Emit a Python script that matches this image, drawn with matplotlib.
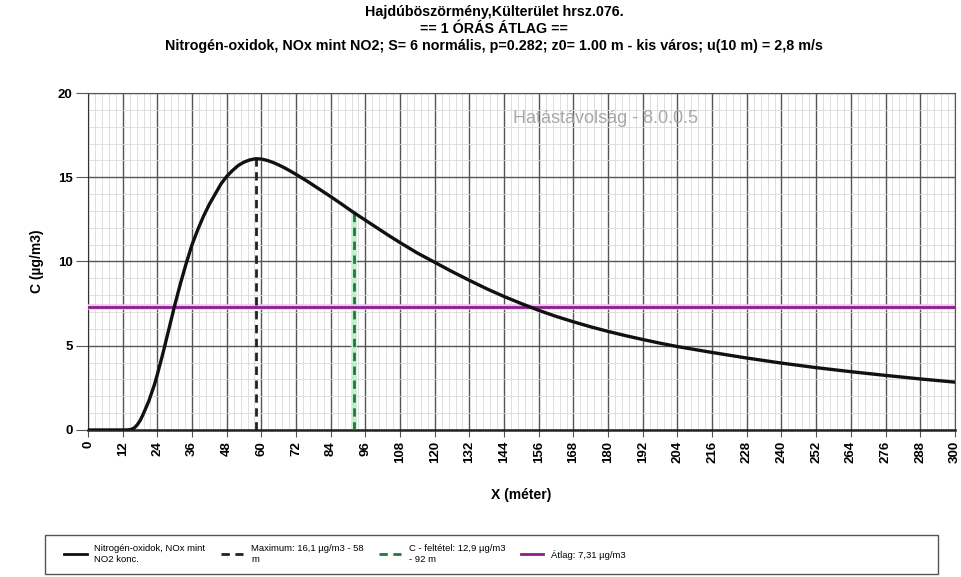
import matplotlib.pyplot as plt
from matplotlib.lines import Line2D
from matplotlib.patches import Rectangle
from matplotlib.ticker import MultipleLocator

plt.rcParams['font.family'] = ['Liberation Sans', 'DejaVu Sans']

# koncentracio gorbe (x m, C ug/m3), leolvasva
tav = [0, 12, 13, 14, 15, 16, 17, 18, 19, 20, 21, 22, 23, 24, 26, 28, 30, 32,
       34, 36, 38, 40, 42, 44, 46, 48, 50, 52, 54, 56, 58, 60, 62, 64, 66, 68,
       70, 72, 76, 80, 84, 88, 92, 96, 100, 104, 108, 114, 120, 126, 132, 138,
       144, 150, 156, 162, 168, 174, 180, 186, 192, 198, 204, 216, 228, 240,
       252, 264, 276, 288, 300]
konc = [0, 0, 0, 0.01, 0.04, 0.12, 0.3, 0.55, 0.9, 1.3, 1.7, 2.2, 2.7, 3.3,
        4.6, 6.0, 7.4, 8.7, 9.9, 11.0, 11.9, 12.7, 13.4, 14.0, 14.6, 15.05,
        15.4, 15.7, 15.9, 16.03, 16.1, 16.08, 16.0, 15.88, 15.73, 15.56, 15.37,
        15.17, 14.75, 14.3, 13.85, 13.38, 12.9, 12.45, 12.0, 11.55, 11.12,
        10.5, 9.95, 9.4, 8.88, 8.38, 7.92, 7.5, 7.1, 6.74, 6.42, 6.12, 5.85,
        5.6, 5.37, 5.15, 4.95, 4.6, 4.27, 3.97, 3.7, 3.46, 3.24, 3.03, 2.84]

max_x, max_c = 58, 16.1
felt_x, felt_c = 92, 12.9
atlag = 7.31

x_ticks = list(range(0, 301, 12))
y_ticks = [0, 5, 10, 15, 20]

fig = plt.figure(figsize=(9.61, 5.77), dpi=100)
ax = fig.add_axes([0.0916, 0.2548, 0.902, 0.584])

ax.set_xlim(0, 300)
ax.set_ylim(0, 20)
ax.set_xticks(x_ticks)
ax.set_yticks(y_ticks)
ax.xaxis.set_minor_locator(MultipleLocator(2.4))
ax.yaxis.set_minor_locator(MultipleLocator(1))
ax.grid(which='minor', color='#d9d9d9', lw=0.6)
ax.grid(which='major', color='#555555', lw=1.0)
ax.set_axisbelow(True)
ax.tick_params(which='minor', length=0)
ax.tick_params(axis='y', length=9, color='#555555', labelsize=9.5, pad=2)
ax.tick_params(axis='x', length=5, color='#555555', labelsize=9.5,
               labelrotation=90, pad=3)
for lab in ax.get_xticklabels() + ax.get_yticklabels():
    lab.set_fontweight('bold')
for s in ['top', 'right']:
    ax.spines[s].set_color('#555555')
ax.spines['left'].set_color('#333333')
ax.spines['bottom'].set_color('#222222')
ax.spines['bottom'].set_linewidth(1.8)

ax.plot([felt_x, felt_x], [0, felt_c], color='#c8ecd0', lw=4, zorder=2)
ax.plot([felt_x, felt_x], [0, felt_c], color='#1e7a3a', lw=2,
        dashes=(3, 2), zorder=3)
ax.axhline(atlag, color='#efc4ef', lw=4, zorder=3)
ax.axhline(atlag, color='#8a1f8a', lw=2, zorder=4)
ax.plot([max_x, max_x], [0, max_c], color='#222222', lw=2,
        dashes=(3, 2), zorder=4)
ax.plot(tav, konc, color='#111111', lw=2.4, zorder=5)

ax.text(179, 18.5, 'Hatástávolság - 8.0.0.5', color='#a8a8a8', fontsize=13,
        ha='center', va='center', zorder=6)

ax.set_xlabel('X (méter)', fontsize=10, fontweight='bold', labelpad=18)
ax.set_ylabel('C (µg/m3)', fontsize=10, fontweight='bold', labelpad=10)

fig.text(0.514, 0.992, 'Hajdúböszörmény,Külterület hrsz.076.\n'
         '== 1 ÓRÁS ÁTLAG ==\n'
         'Nitrogén-oxidok, NOx mint NO2; S= 6 normális, p=0.282; z0= 1.00 m - '
         'kis város; u(10 m) = 2,8 m/s',
         ha='center', va='top', fontsize=10.3, fontweight='bold',
         linespacing=1.3)

# jelmagyarazat
fig.patches.append(Rectangle((0.047, 0.005), 0.929, 0.068,
                             transform=fig.transFigure, fill=False,
                             ec='#555555', lw=1))
handles = [
    Line2D([], [], color='#111111', lw=2),
    Line2D([], [], color='#222222', lw=2, dashes=(3, 2)),
    Line2D([], [], color='#1e7a3a', lw=2, dashes=(3, 2)),
    Line2D([], [], color='#8a1f8a', lw=2),
]
labels = [
    'Nitrogén-oxidok, NOx mint\nNO2 konc.',
    'Maximum: 16,1 µg/m3 - 58\nm',
    'C - feltétel: 12,9 µg/m3\n- 92 m',
    'Átlag: 7,31 µg/m3',
]
fig.legend(handles, labels, loc='upper left', bbox_to_anchor=(0.06, 0.068),
           ncol=4, frameon=False, handlelength=2.4, handletextpad=0.8,
           columnspacing=1.6, borderpad=0.2,
           prop={'family': ['Liberation Sans Narrow', 'Liberation Sans'],
                 'size': 6.8})

plt.savefig('out.png', dpi=100)
